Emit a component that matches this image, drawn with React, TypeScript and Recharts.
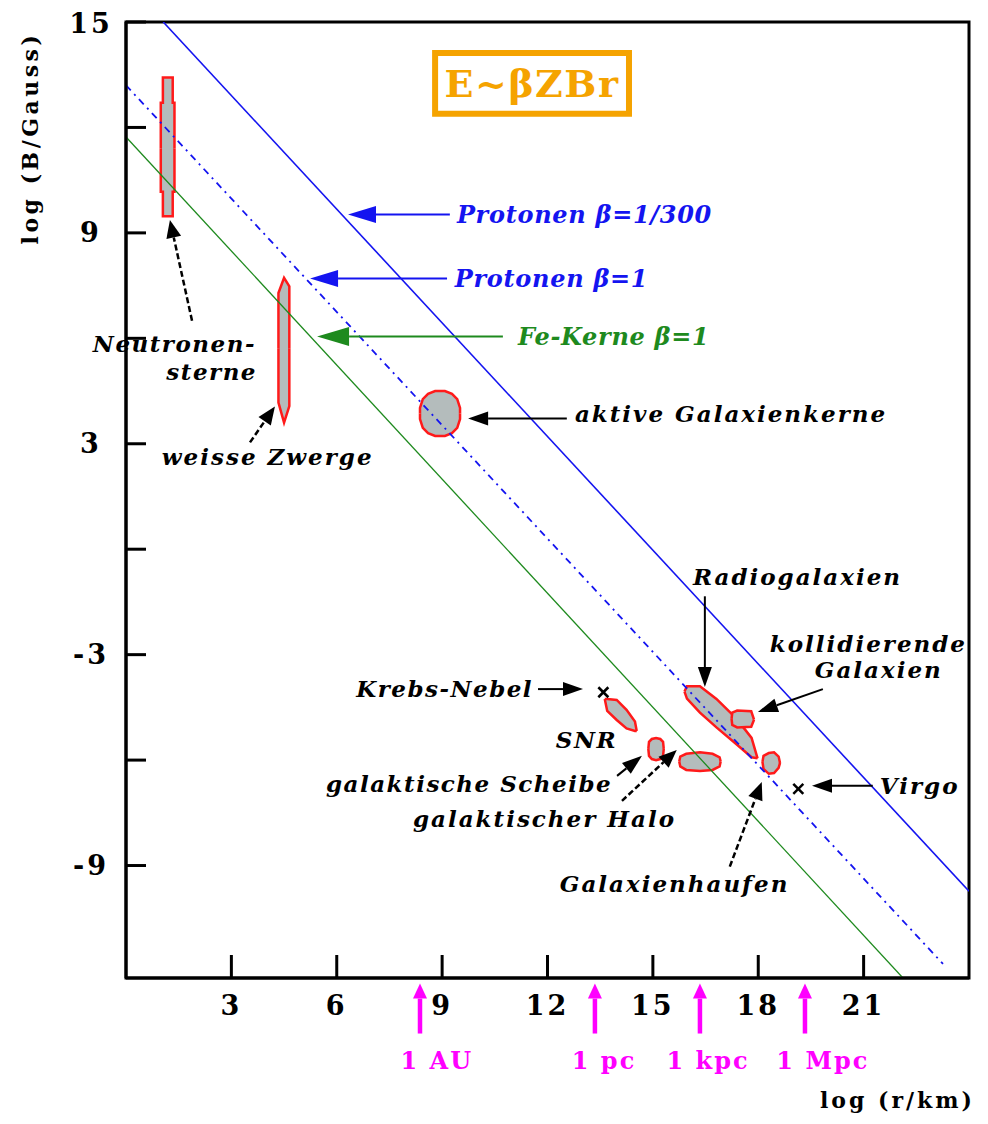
import React from 'react';
import {
  ComposedChart, XAxis, YAxis, Line, Area, Scatter,
  ReferenceArea, ReferenceLine, ReferenceDot,
} from 'recharts';

const FONT = '"DejaVu Serif", serif';

const xTicks = [3, 6, 9, 12, 15, 18, 21];
const yTicks = [-9, -6, -3, 0, 3, 6, 9, 12, 15];

// limit lines E ~ beta Z B r
const protonSlow = [{ x: 1.06, y: 15 }, { x: 24, y: -9.73 }];
const protonFast = [{ x: 0, y: 13.2 }, { x: 23.26, y: -11.8 }];
const ironFast = [{ x: 0, y: 11.73 }, { x: 22.12, y: -12.2 }];

// source regions: log r -> [log B min, log B max]
const neutronStars = [
  { x: 0.99, range: [11.4, 11.4] }, { x: 0.99, range: [10.17, 12.7] },
  { x: 1.05, range: [10.17, 12.7] }, { x: 1.05, range: [9.47, 13.42] },
  { x: 1.33, range: [9.47, 13.42] }, { x: 1.33, range: [10.17, 12.7] },
  { x: 1.38, range: [10.17, 12.7] }, { x: 1.38, range: [11.4, 11.4] },
];
const whiteDwarfs = [
  { x: 4.34, range: [5.7, 5.7] }, { x: 4.34, range: [4.17, 7.29] },
  { x: 4.5, range: [3.6, 7.72] }, { x: 4.65, range: [4.07, 7.48] },
  { x: 4.65, range: [5.7, 5.7] },
];
const agn = [
  { x: 8.37, range: [3.86, 3.86] }, { x: 8.37, range: [3.7, 4.02] },
  { x: 8.45, range: [3.45, 4.27] }, { x: 8.6, range: [3.3, 4.42] },
  { x: 8.8, range: [3.22, 4.5] }, { x: 9.08, range: [3.22, 4.5] },
  { x: 9.28, range: [3.3, 4.42] }, { x: 9.43, range: [3.45, 4.27] },
  { x: 9.51, range: [3.7, 4.02] }, { x: 9.51, range: [3.86, 3.86] },
];
const snr = [
  { x: 13.63, range: [-4.26, -4.26] }, { x: 13.7, range: [-4.6, -4.26] },
  { x: 13.97, range: [-4.86, -4.29] }, { x: 14.25, range: [-5.1, -4.57] },
  { x: 14.49, range: [-5.17, -4.9] }, { x: 14.54, range: [-5.17, -5.17] },
];
const galDisk = [
  { x: 14.87, range: [-5.68, -5.68] }, { x: 14.89, range: [-5.88, -5.48] },
  { x: 14.97, range: [-5.97, -5.4] }, { x: 15.09, range: [-6.0, -5.37] },
  { x: 15.21, range: [-5.97, -5.4] }, { x: 15.29, range: [-5.88, -5.48] },
  { x: 15.31, range: [-5.68, -5.68] },
];
const galHalo = [
  { x: 15.75, range: [-6.04, -6.04] }, { x: 15.78, range: [-6.18, -5.9] },
  { x: 15.95, range: [-6.28, -5.82] }, { x: 16.34, range: [-6.31, -5.78] },
  { x: 16.7, range: [-6.28, -5.82] }, { x: 16.9, range: [-6.18, -5.92] },
  { x: 16.93, range: [-6.04, -6.04] },
];
const radioGal = [
  { x: 15.9, range: [-4.05, -4.05] }, { x: 15.97, range: [-4.25, -3.9] },
  { x: 16.34, range: [-4.65, -3.9] }, { x: 16.81, range: [-5.07, -4.26] },
  { x: 17.38, range: [-5.55, -4.82] }, { x: 17.81, range: [-5.92, -5.37] },
  { x: 17.98, range: [-5.95, -5.95] },
];
const collidingGal = [
  { x: 17.24, range: [-4.83, -4.83] }, { x: 17.26, range: [-5.0, -4.65] },
  { x: 17.4, range: [-5.07, -4.59] }, { x: 17.8, range: [-5.05, -4.61] },
  { x: 17.88, range: [-4.85, -4.85] },
];
const clusters = [
  { x: 18.12, range: [-6.05, -6.05] }, { x: 18.15, range: [-6.25, -5.88] },
  { x: 18.3, range: [-6.39, -5.8] }, { x: 18.45, range: [-6.37, -5.78] },
  { x: 18.58, range: [-6.22, -5.9] }, { x: 18.62, range: [-6.08, -6.08] },
];
const regions = [neutronStars, whiteDwarfs, agn, snr, galDisk, galHalo, radioGal, collidingGal, clusters];

// single objects (Krebs-Nebel, Virgo)
const crosses = [{ x: 13.59, y: -4.07 }, { x: 19.14, y: -6.82 }];

// annotation arrows, tail -> tip
const blueArrows = [
  { from: { x: 9.22, y: 9.52 }, to: { x: 6.32, y: 9.52 } },
  { from: { x: 9.14, y: 7.7 }, to: { x: 5.24, y: 7.7 } },
];
const greenArrows = [{ from: { x: 10.73, y: 6.05 }, to: { x: 5.44, y: 6.05 } }];
const blackArrows = [
  { from: { x: 12.55, y: 3.72 }, to: { x: 9.74, y: 3.72 } },
  { from: { x: 16.48, y: -1.34 }, to: { x: 16.48, y: -3.92 } },
  { from: { x: 19.84, y: -3.98 }, to: { x: 17.99, y: -4.63 } },
  { from: { x: 11.73, y: -3.98 }, to: { x: 13.01, y: -3.98 } },
  { from: { x: 13.98, y: -6.45 }, to: { x: 14.69, y: -5.88 } },
  { from: { x: 21.26, y: -6.73 }, to: { x: 19.53, y: -6.73 } },
];
const dashedArrows = [
  { from: { x: 1.88, y: 6.5 }, to: { x: 1.25, y: 9.37 } },
  { from: { x: 3.53, y: 3.04 }, to: { x: 4.24, y: 4.06 } },
  { from: { x: 14.12, y: -7.16 }, to: { x: 15.68, y: -5.71 } },
  { from: { x: 17.19, y: -9.03 }, to: { x: 18.1, y: -6.62 } },
];

// length scales below the axis
const scaleMarks = [8.37, 13.35, 16.34, 19.33];
const scaleLabels = [
  { text: '1 AU', x: 8.85 }, { text: '1 pc', x: 13.61 },
  { text: '1 kpc', x: 16.57 }, { text: '1 Mpc', x: 19.84 },
];
const SCALE_TIP = -12.36;
const SCALE_TAIL = -13.78;
const SCALE_TEXT = -14.78;

const blueLabels = [
  { text: 'Protonen β=1/300', x: 9.42, y: 9.29 },
  { text: 'Protonen β=1', x: 9.36, y: 7.47 },
];
const greenLabels = [{ text: 'Fe-Kerne β=1', x: 11.16, y: 5.82 }];
const labelsStart = [
  { text: 'weisse Zwerge', x: 1.02, y: 2.41 },
  { text: 'aktive Galaxienkerne', x: 12.78, y: 3.61 },
  { text: 'Radiogalaxien', x: 16.14, y: -1.02 },
  { text: 'kollidierende', x: 18.33, y: -2.93 },
  { text: 'Galaxien', x: 19.61, y: -3.66 },
  { text: 'galaktischer Halo', x: 8.17, y: -7.9 },
  { text: 'Galaxienhaufen', x: 12.35, y: -9.74 },
  { text: 'Virgo', x: 21.46, y: -6.96 },
];
const labelsEnd = [
  { text: 'Neutronen-', x: 3.7, y: 5.62 },
  { text: 'sterne', x: 3.73, y: 4.82 },
  { text: 'Krebs-Nebel', x: 11.59, y: -4.2 },
  { text: 'SNR', x: 13.98, y: -5.65 },
  { text: 'galaktische Scheibe', x: 13.84, y: -6.9 },
];

function arrowShape(color: string, width: number, headLen: number, headW: number, dash?: string) {
  return (p: any) => {
    const { x1, y1, x2, y2 } = p;
    const dx = x2 - x1;
    const dy = y2 - y1;
    const len = Math.hypot(dx, dy) || 1;
    const ux = dx / len;
    const uy = dy / len;
    const bx = x2 - ux * headLen;
    const by = y2 - uy * headLen;
    const px = (-uy * headW) / 2;
    const py = (ux * headW) / 2;
    return (
      <g>
        <line x1={x1} y1={y1} x2={bx} y2={by} stroke={color} strokeWidth={width} strokeDasharray={dash} />
        <polygon points={`${x2},${y2} ${bx + px},${by + py} ${bx - px},${by - py}`} fill={color} />
      </g>
    );
  };
}

function textShape(text: string, color: string, anchor: 'start' | 'end' | 'middle', size: number, italic: boolean, spacing: number) {
  return (p: any) => (
    <text
      x={p.cx}
      y={p.cy}
      fill={color}
      fontSize={size}
      fontFamily={FONT}
      fontWeight="bold"
      fontStyle={italic ? 'italic' : 'normal'}
      letterSpacing={spacing}
      textAnchor={anchor}
    >
      {text}
    </text>
  );
}

const crossShape = (p: any) => {
  const s = 5;
  return (
    <g stroke="#000" strokeWidth={2.5}>
      <line x1={p.cx - s} y1={p.cy - s} x2={p.cx + s} y2={p.cy + s} />
      <line x1={p.cx - s} y1={p.cy + s} x2={p.cx + s} y2={p.cy - s} />
    </g>
  );
};

const LABEL_SIZE = 23;
const TICK_STYLE = { fill: '#000', fontSize: 27, fontWeight: 'bold', fontFamily: FONT, letterSpacing: 3 };

export default function App() {
  return (
    <ComposedChart width={972} height={1108} margin={{ top: 14, right: 11, bottom: 78, left: 58 }}>
      <XAxis
        type="number"
        dataKey="x"
        domain={[0, 24]}
        ticks={xTicks}
        allowDataOverflow
        height={60}
        tickSize={-23}
        tickMargin={41}
        axisLine={{ stroke: '#000', strokeWidth: 3 }}
        tickLine={{ stroke: '#000', strokeWidth: 3 }}
        tick={TICK_STYLE}
        label={{
          content: ({ viewBox }: any) => (
            <text
              x={viewBox.x + viewBox.width + 6}
              y={viewBox.y + 130}
              textAnchor="end"
              fontSize={22}
              fontWeight="bold"
              fontFamily={FONT}
              letterSpacing={3}
              fill="#000"
            >
              log (r/km)
            </text>
          ),
        }}
      />
      <YAxis
        type="number"
        dataKey="y"
        domain={[-12.2, 15]}
        ticks={yTicks}
        allowDataOverflow
        width={60}
        tickSize={-20}
        tickMargin={55}
        tickFormatter={(v: number) => ((v - 3) % 6 === 0 ? String(v) : '')}
        axisLine={{ stroke: '#000', strokeWidth: 3 }}
        tickLine={{ stroke: '#000', strokeWidth: 3 }}
        tick={{ ...TICK_STYLE, textAnchor: 'middle' }}
        label={{
          content: ({ viewBox }: any) => {
            const x = viewBox.x - 28;
            const y = viewBox.y + 116;
            return (
              <text
                x={x}
                y={y}
                transform={`rotate(-90, ${x}, ${y})`}
                textAnchor="middle"
                fontSize={22}
                fontWeight="bold"
                fontFamily={FONT}
                letterSpacing={3.5}
                fill="#000"
              >
                log (B/Gauss)
              </text>
            );
          },
        }}
      />

      <ReferenceArea
        x1={8.8}
        x2={14.32}
        y1={12.39}
        y2={14.12}
        ifOverflow="visible"
        fill="#fff"
        fillOpacity={1}
        stroke="#f5a300"
        strokeWidth={6}
        label={{
          content: ({ viewBox }: any) => (
            <text
              x={viewBox.x + viewBox.width / 2}
              y={viewBox.y + viewBox.height / 2 + 14}
              textAnchor="middle"
              fontSize={38}
              fontWeight="bold"
              fontFamily={FONT}
              letterSpacing={1.5}
              fill="#f5a300"
            >
              E~βZBr
            </text>
          ),
        }}
      />

      <Line data={protonSlow} dataKey="y" type="linear" stroke="#1414f0" strokeWidth={1.6} dot={false} activeDot={false} isAnimationActive={false} />
      <Line data={protonFast} dataKey="y" type="linear" stroke="#1414f0" strokeWidth={1.8} strokeDasharray="7 5 2 5" dot={false} activeDot={false} isAnimationActive={false} />
      <Line data={ironFast} dataKey="y" type="linear" stroke="#1e8a1e" strokeWidth={1.3} dot={false} activeDot={false} isAnimationActive={false} />

      {regions.map((r, i) => (
        <Area
          key={`reg-${i}`}
          data={r}
          dataKey="range"
          type="linear"
          stroke="#ff1a1a"
          strokeWidth={2.5}
          fill="#b4bcbc"
          fillOpacity={1}
          dot={false}
          activeDot={false}
          isAnimationActive={false}
        />
      ))}

      <Scatter data={crosses} shape={crossShape} isAnimationActive={false} />

      {blueArrows.map((a, i) => (
        <ReferenceLine key={`ba-${i}`} segment={[a.from, a.to]} ifOverflow="visible" shape={arrowShape('#1414f0', 2, 28, 17)} />
      ))}
      {greenArrows.map((a, i) => (
        <ReferenceLine key={`ga-${i}`} segment={[a.from, a.to]} ifOverflow="visible" shape={arrowShape('#1e8a1e', 2, 32, 19)} />
      ))}
      {blackArrows.map((a, i) => (
        <ReferenceLine key={`ka-${i}`} segment={[a.from, a.to]} ifOverflow="visible" shape={arrowShape('#000', 2, 20, 14)} />
      ))}
      {dashedArrows.map((a, i) => (
        <ReferenceLine key={`da-${i}`} segment={[a.from, a.to]} ifOverflow="visible" shape={arrowShape('#000', 2.5, 18, 15, '6 3')} />
      ))}
      {scaleMarks.map((x, i) => (
        <ReferenceLine
          key={`sm-${i}`}
          segment={[{ x, y: SCALE_TAIL }, { x, y: SCALE_TIP }]}
          ifOverflow="visible"
          shape={arrowShape('#ff00ff', 4.5, 15, 14)}
        />
      ))}

      {scaleLabels.map((l, i) => (
        <ReferenceDot key={`sl-${i}`} x={l.x} y={SCALE_TEXT} ifOverflow="visible" shape={textShape(l.text, '#ff00ff', 'middle', 24, false, 2)} />
      ))}
      {blueLabels.map((l, i) => (
        <ReferenceDot key={`bl-${i}`} x={l.x} y={l.y} ifOverflow="visible" shape={textShape(l.text, '#1414f0', 'start', 24, true, 0.7)} />
      ))}
      {greenLabels.map((l, i) => (
        <ReferenceDot key={`gl-${i}`} x={l.x} y={l.y} ifOverflow="visible" shape={textShape(l.text, '#1e8a1e', 'start', 24, true, 0.7)} />
      ))}
      {labelsStart.map((l, i) => (
        <ReferenceDot key={`ls-${i}`} x={l.x} y={l.y} ifOverflow="visible" shape={textShape(l.text, '#000', 'start', LABEL_SIZE, true, 2)} />
      ))}
      {labelsEnd.map((l, i) => (
        <ReferenceDot key={`le-${i}`} x={l.x} y={l.y} ifOverflow="visible" shape={textShape(l.text, '#000', 'end', LABEL_SIZE, true, 1.5)} />
      ))}

      <ReferenceArea x1={0} x2={24} y1={-12.2} y2={15} ifOverflow="visible" fill="none" stroke="#000" strokeWidth={3} />
    </ComposedChart>
  );
}
